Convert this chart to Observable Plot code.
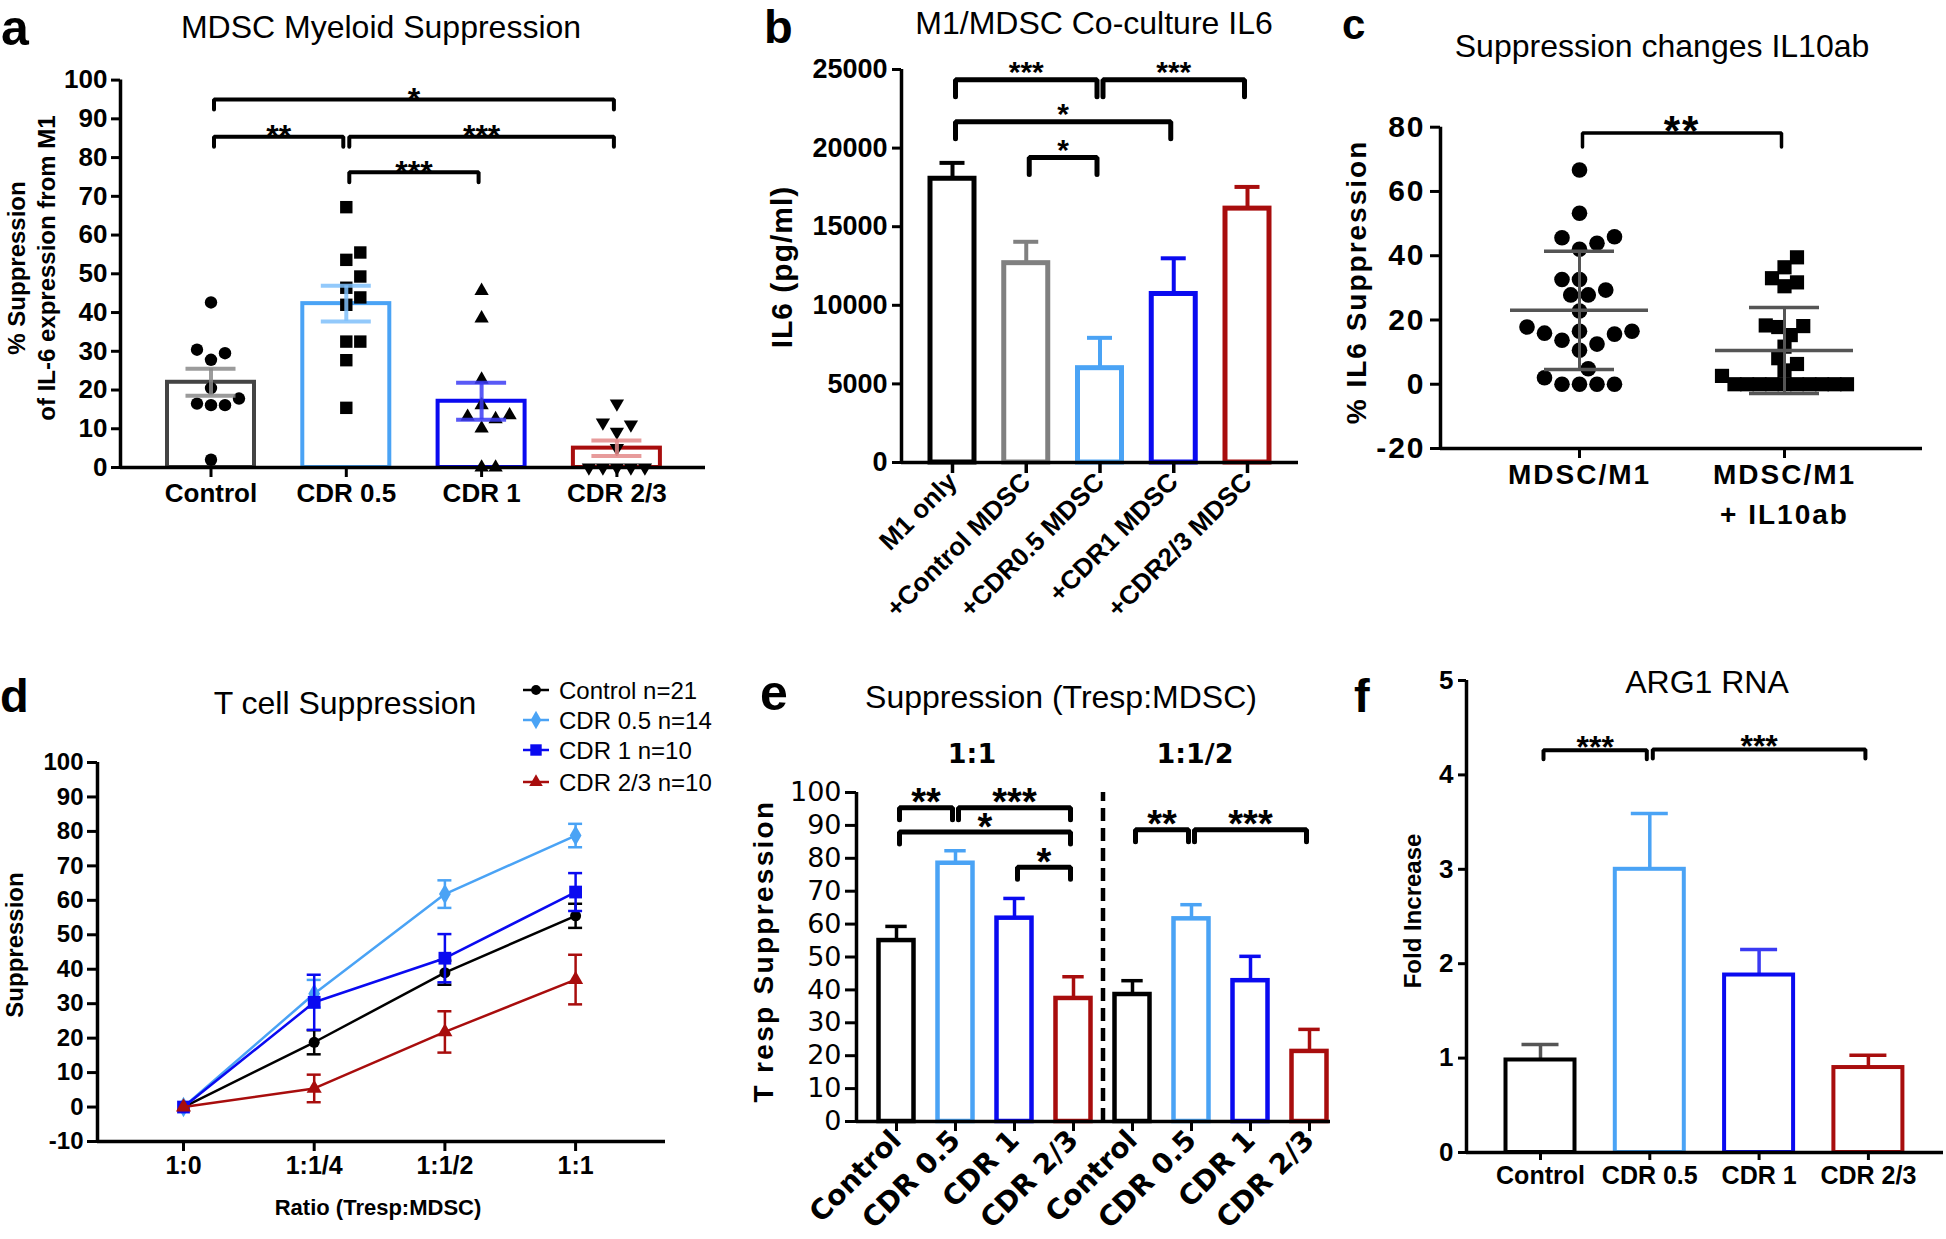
<!DOCTYPE html>
<html><head><meta charset="utf-8">
<script src="https://cdn.jsdelivr.net/npm/d3@7"></script>
<script src="https://cdn.jsdelivr.net/npm/@observablehq/plot@0.6"></script>
<style>
html,body{margin:0;padding:0;background:#fff}
#fig{position:relative;width:1946px;height:1239px;overflow:hidden;background:#fff}
#fig svg{position:absolute;left:0;top:0}
</style></head>
<body><div id="fig"></div>
<script>
// ================= DATA =================
// Panel a – MDSC Myeloid Suppression
const aCats = ["Control", "CDR 0.5", "CDR 1", "CDR 2/3"];
const aMeans = [22.0, 42.3, 17.1, 5.0];
const aSem = [3.5, 4.6, 4.8, 2.0];
const aPtsControl = [42.6, 29.5, 30.4, 27.8, 20.5, 17.8, 16.1, 16.1, 16.5, 2.0];
const aPtsCdr05 = [67.2, 55.5, 53.6, 49.3, 46.4, 43.9, 42.0, 32.5, 32.5, 27.7, 15.4];
const aPtsCdr1 = [45.6, 38.5, 22.7, 16.1, 13.5, 13.1, 12.5, 10.1, 0, 0];
const aPtsCdr23 = [16.5, 11.6, 11.1, 9.2, 5.0, 0, 0, 0, 0, 0];
const aTicks = [0, 10, 20, 30, 40, 50, 60, 70, 80, 90, 100];
const aBrFrom = [0, 0, 1, 1];
const aBrTo = [3, 1, 3, 2];
const aBrY = [95, 85.4, 85.4, 76.2];
const aBrLabel = ["*", "**", "***", "***"];

// Panel b – M1/MDSC Co-culture IL6
const bCats = ["M1 only", "+Control MDSC", "+CDR0.5 MDSC", "+CDR1 MDSC", "+CDR2/3 MDSC"];
const bMeans = [18050, 12680, 6000, 10720, 16150];
const bSem = [1010, 1360, 1930, 2270, 1380];
const bTicks = [0, 5000, 10000, 15000, 20000, 25000];
const bBrFrom = [0, 2, 0, 1];
const bBrTo = [2, 4, 3, 2];
const bBrY = [24350, 24350, 21670, 19400];
const bBrLabel = ["***", "***", "*", "*"];

// Panel c – Suppression changes IL10ab
const cCats = ["MDSC/M1", "MDSC/M1\n+ IL10ab"];
const cPts1 = [66.7, 53.2, 45.6, 45.9, 43.9, 42.0, 32.6, 32.6, 29.3, 27.8, 27.8, 22.8, 17.8, 16.5, 16.5, 15.9, 15.6, 13.7, 12.5, 10.6, 4.8, 2.0, 0, 0, 0, 0];
const cPts2 = [39.5, 36.4, 33.0, 31.7, 30.5, 18.3, 18.1, 17.8, 15.3, 11.7, 8.1, 6.3, 4.3, 2.6, 0, 0, 0, 0, 0, 0, 0, 0, 0, 0];
const cMean = [23.0, 10.5];
const cSd = [18.4, 13.4];
const cTicks = [-20, 0, 20, 40, 60, 80];
const cBrFrom = [0];
const cBrTo = [1];
const cBrY = [78.2];
const cBrLabel = ["**"];

// Panel d – T cell Suppression
const dRatios = ["1:0", "1:1/4", "1:1/2", "1:1"];
const dSeries = ["Control n=21", "CDR 0.5 n=14", "CDR 1 n=10", "CDR 2/3 n=10"];
const dControl = [0, 18.8, 39.0, 55.5];
const dControlErr = [0, 3.5, 3.5, 3.5];
const dCdr05 = [0, 32.9, 61.8, 78.8];
const dCdr05Err = [0, 4.0, 4.0, 3.4];
const dCdr1 = [0, 30.4, 43.2, 62.4];
const dCdr1Err = [0, 8.0, 7.0, 5.5];
const dCdr23 = [0, 5.4, 21.8, 37.0];
const dCdr23Err = [0, 4.0, 6.0, 7.2];
const dTicks = [-10, 0, 10, 20, 30, 40, 50, 60, 70, 80, 90, 100];

// Panel e – Suppression (Tresp:MDSC)
const eCats = ["Control", "CDR 0.5", "CDR 1", "CDR 2/3"];
const eGroups = ["1:1", "1:1/2"];
const eMeans1 = [55.0, 78.5, 61.8, 37.4];
const eSem1 = [4.3, 3.8, 6.0, 6.6];
const eMeans2 = [38.6, 61.6, 42.8, 21.3];
const eSem2 = [4.2, 4.3, 7.4, 6.7];
const eTicks = [0, 10, 20, 30, 40, 50, 60, 70, 80, 90, 100];
const eBrFrom = [0, 1, 0, 2, 4, 5];
const eBrTo = [1, 3, 3, 3, 5, 7];
const eBrY = [95.4, 95.4, 88.0, 77.3, 88.7, 88.7];
const eBrLabel = ["**", "***", "*", "*", "**", "***"];

// Panel f – ARG1 RNA
const fCats = ["Control", "CDR 0.5", "CDR 1", "CDR 2/3"];
const fMeans = [0.98, 3.0, 1.88, 0.9];
const fSem = [0.165, 0.59, 0.27, 0.13];
const fTicks = [0, 1, 2, 3, 4, 5];
const fBrFrom = [0, 1];
const fBrTo = [1, 3];
const fBrY = [4.26, 4.27];
const fBrLabel = ["***", "***"];

// ================= STYLE / LAYOUT =================
const W = 1946, H = 1239;
const FONT = '"Liberation Sans", Arial, Helvetica, sans-serif';
const C_BLACK = "#000000", C_DGRAY = "#444444", C_GRAY = "#808080", C_LBLUE = "#4aa3f5", C_BLUE = "#0a0af0", C_RED = "#a80d0d";
const fig = document.getElementById("fig");

function layout(L, R, T, B, c0, step, ydom) {
  return {L, R, T, B, c0, step, ydom, xdom: [(L - c0) / step, (R - c0) / step], ppu: (B - T) / (ydom[1] - ydom[0])};
}

function panel(lay, marks, style = {}) {
  const svg = Plot.plot({
    width: W, height: H,
    marginLeft: lay.L, marginRight: W - lay.R, marginTop: lay.T, marginBottom: H - lay.B,
    x: {type: "linear", domain: lay.xdom, label: null},
    y: {type: "linear", domain: lay.ydom, label: null},
    color: {type: "identity"},
    style: {background: "none", overflow: "visible", fontFamily: FONT, color: "#000", ...style},
    marks
  });
  svg.style.position = "absolute"; svg.style.left = "0px"; svg.style.top = "0px";
  svg.style.pointerEvents = "none";
  fig.appendChild(svg);
  return svg;
}

function axisLines(lay, sw) {
  return [
    Plot.ruleX([lay.xdom[0]], {y1: lay.ydom[0], y2: lay.ydom[1], stroke: "#000", strokeWidth: sw}),
    Plot.ruleY([lay.ydom[0]], {stroke: "#000", strokeWidth: sw})
  ];
}

function yAxis(ticks, o) {
  return Plot.axisY({ticks, tickFormat: d => String(d), tickSize: o.size, tickPadding: o.pad, fontSize: o.fs,
    fontWeight: o.weight || "bold", fontFamily: o.family || FONT, strokeWidth: o.sw || 3, label: null});
}

function brackets(lay, from, to, ys, labels, o) {
  const inset = 3 / lay.step, leg = o.leg / lay.ppu;
  const br = from.map((f, k) => ({k, x1: f + inset, x2: to[k] - inset, y: ys[k], label: labels[k], mid: (f + to[k]) / 2}));
  const pts = br.flatMap(b => [
    {k: b.k, x: b.x1, y: b.y - leg}, {k: b.k, x: b.x1, y: b.y},
    {k: b.k, x: b.x2, y: b.y}, {k: b.k, x: b.x2, y: b.y - leg}
  ]);
  return [
    Plot.line(pts, {x: "x", y: "y", z: "k", stroke: "#000", strokeWidth: o.sw, strokeLinejoin: "miter", curve: "linear"}),
    Plot.text(br, {x: "mid", y: "y", text: "label", fontSize: o.fs, fontWeight: "bold", lineAnchor: "middle", dy: o.dy, fill: "#000"})
  ];
}

function bars(lay, means, errs, colors, o) {
  const data = means.map((v, i) => ({i, v, e: errs[i], color: colors[i], ec: (o.errColors || colors)[i]}));
  const hw = o.hw / lay.step, cw = o.cap / lay.step;
  const marksBar = [Plot.rectY(data, {x1: d => d.i - hw, x2: d => d.i + hw, y1: 0, y2: "v", fill: "white", stroke: "color", strokeWidth: o.sw})];
  const marksErr = [
    Plot.ruleX(data, {x: "i", y1: d => o.both ? d.v - d.e : d.v, y2: d => d.v + d.e, stroke: "ec", strokeWidth: o.esw, strokeOpacity: o.eop || 1}),
    Plot.ruleY(data, {y: d => d.v + d.e, x1: d => d.i - cw, x2: d => d.i + cw, stroke: "ec", strokeWidth: o.esw, strokeOpacity: o.eop || 1})
  ];
  if (o.both) marksErr.push(Plot.ruleY(data, {y: d => d.v - d.e, x1: d => d.i - cw, x2: d => d.i + cw, stroke: "ec", strokeWidth: o.esw, strokeOpacity: o.eop || 1}));
  return {marksBar, marksErr};
}

// deterministic beeswarm: spreads points of similar value sideways
function swarm(values, center, lay, diam) {
  const order = values.map((v, k) => k).sort((a, b) => values[a] - values[b]);
  const placed = [], out = new Array(values.length), cand = diam / 2;
  for (const k of order) {
    const y = values[k] * lay.ppu;
    let off = 0;
    for (let j = 0; j < 400; j++) {
      off = (j % 2 === 1 ? 1 : -1) * Math.ceil(j / 2) * cand;
      if (placed.every(p => (p.x - off) ** 2 + (p.y - y) ** 2 >= diam * diam * 0.98)) break;
    }
    placed.push({x: off, y});
    out[k] = {x: center + off / lay.step, v: values[k]};
  }
  return out;
}

const triangleDown = {
  draw(context, size) {
    const y = -Math.sqrt(size / (Math.sqrt(3) * 3));
    context.moveTo(0, -y * 2);
    context.lineTo(-Math.sqrt(3) * y, y);
    context.lineTo(Math.sqrt(3) * y, y);
    context.closePath();
  }
};

// ================= PANEL a =================
{
  const lay = layout(120, 705, 79.6, 467, 210.5, 135.3, [0, 100]);
  const {marksBar, marksErr} = bars(lay, aMeans, aSem, [C_DGRAY, C_LBLUE, C_BLUE, C_RED],
    {hw: 43.5, cap: 25, sw: 4, esw: 4, both: true, eop: 0.85, errColors: ["#8a8a8a", "#7fc0fa", "#3c3cf5", "#e38a8a"]});
  const groups = [aPtsControl, aPtsCdr05, aPtsCdr1, aPtsCdr23];
  const syms = ["circle", "square", "triangle", triangleDown];
  const rs = [6.2, 7.0, 5.3, 5.3];
  const dots = groups.map((g, i) => Plot.dot(swarm(g, i, lay, 14), {x: "x", y: "v", symbol: syms[i], r: rs[i], fill: "#000", stroke: "none"}));
  panel(lay, [
    ...marksBar,
    ...dots,
    ...marksErr,
    ...axisLines(lay, 3.5),
    yAxis(aTicks, {size: 9, pad: 4, fs: 26}),
    Plot.axisX({ticks: [0, 1, 2, 3], tickFormat: i => aCats[i], tickSize: 10, tickPadding: 6, fontSize: 26, fontWeight: "bold", strokeWidth: 3, label: null}),
    ...brackets(lay, aBrFrom, aBrTo, aBrY, aBrLabel, {leg: 10, sw: 4, fs: 32, dy: 0})
  ]);
}

// ================= PANEL b =================
{
  const lay = layout(901, 1298, 69, 462, 952, 73.75, [0, 25000]);
  const {marksBar, marksErr} = bars(lay, bMeans, bSem, [C_BLACK, C_GRAY, C_LBLUE, C_BLUE, C_RED], {hw: 22, cap: 12.5, sw: 5, esw: 4});
  panel(lay, [
    ...marksErr, ...marksBar,
    ...axisLines(lay, 3.5),
    yAxis(bTicks, {size: 9, pad: 5, fs: 27}),
    Plot.axisX({ticks: [0, 1, 2, 3, 4], tickFormat: i => bCats[i], tickSize: 11, tickPadding: 4, tickRotate: -45, fontSize: 26, fontWeight: "bold", strokeWidth: 3.5, label: null}),
    ...brackets(lay, bBrFrom, bBrTo, bBrY, bBrLabel, {leg: 17, sw: 5, fs: 30, dy: -7})
  ]);
}

// ================= PANEL c =================
{
  const lay = layout(1440, 1922, 126.7, 448, 1579, 205, [-20, 80]);
  const p1 = swarm(cPts1, 0, lay, 17.5);
  const p2 = swarm(cPts2, 1, lay, 12.5);
  const stats = cMean.map((m, i) => ({i, m, s: cSd[i]}));
  const mw = 69 / lay.step, cw = 35 / lay.step;
  panel(lay, [
    Plot.dot(p1, {x: "x", y: "v", symbol: "circle", r: 7.8, fill: "#000"}),
    Plot.dot(p2, {x: "x", y: "v", symbol: "square", r: 8.0, fill: "#000"}),
    Plot.ruleX(stats, {x: "i", y1: d => d.m - d.s, y2: d => d.m + d.s, stroke: "#555", strokeWidth: 3}),
    Plot.ruleY(stats, {y: "m", x1: d => d.i - mw, x2: d => d.i + mw, stroke: "#555", strokeWidth: 3.5}),
    Plot.ruleY(stats, {y: d => d.m + d.s, x1: d => d.i - cw, x2: d => d.i + cw, stroke: "#555", strokeWidth: 3.5}),
    Plot.ruleY(stats, {y: d => d.m - d.s, x1: d => d.i - cw, x2: d => d.i + cw, stroke: "#555", strokeWidth: 3.5}),
    ...axisLines(lay, 3.5),
    yAxis(cTicks, {size: 10, pad: 5, fs: 30}),
    Plot.axisX({ticks: [0, 1], tickFormat: i => cCats[i], tickSize: 10, tickPadding: -3, fontSize: 28, fontWeight: "bold", lineHeight: 1.43, strokeWidth: 3, label: null}),
    ...brackets(lay, cBrFrom, cBrTo, cBrY, cBrLabel, {leg: 14, sw: 3.5, fs: 42, dy: -1.5})
  ], {letterSpacing: "2px"});
}

// ================= PANEL d =================
const dColors = [C_BLACK, C_LBLUE, C_BLUE, C_RED];
const dSyms = ["circle", "diamond", "square", "triangle"];
const dRad = [5.5, 6.2, 7.2, 5.6];
{
  const lay = layout(97, 665, 762, 1141, 183, 130.7, [-10, 100]);
  const vals = [dControl, dCdr05, dCdr1, dCdr23];
  const errs = [dControlErr, dCdr05Err, dCdr1Err, dCdr23Err];
  const cw = 7 / lay.step;
  const marks = [];
  vals.forEach((arr, k) => {
    const rows = arr.map((v, i) => ({i, v, e: errs[k][i], s: dSeries[k]}));
    const er = rows.filter(d => d.e > 0);
    marks.push(
      Plot.line(rows, {x: "i", y: "v", stroke: dColors[k], strokeWidth: 2.5}),
      Plot.ruleX(er, {x: "i", y1: d => d.v - d.e, y2: d => d.v + d.e, stroke: dColors[k], strokeWidth: 2.5}),
      Plot.ruleY(er, {y: d => d.v + d.e, x1: d => d.i - cw, x2: d => d.i + cw, stroke: dColors[k], strokeWidth: 2.5}),
      Plot.ruleY(er, {y: d => d.v - d.e, x1: d => d.i - cw, x2: d => d.i + cw, stroke: dColors[k], strokeWidth: 2.5}),
      Plot.dot(rows, {x: "i", y: "v", symbol: dSyms[k], r: dRad[k], fill: dColors[k], stroke: "none"})
    );
  });
  panel(lay, [
    ...marks,
    ...axisLines(lay, 3.5),
    yAxis(dTicks, {size: 10, pad: 4, fs: 24}),
    Plot.axisX({ticks: [0, 1, 2, 3], tickFormat: i => dRatios[i], tickSize: 10, tickPadding: 5, fontSize: 25, fontWeight: "bold", strokeWidth: 3, label: null})
  ]);
}

// ================= PANEL e =================
{
  const lay = layout(856, 1330, 792, 1121, 896, 59.0, [0, 100]);
  const means = [...eMeans1, ...eMeans2], sems = [...eSem1, ...eSem2];
  const cols = [C_BLACK, C_LBLUE, C_BLUE, C_RED, C_BLACK, C_LBLUE, C_BLUE, C_RED];
  const {marksBar, marksErr} = bars(lay, means, sems, cols, {hw: 17.5, cap: 10.7, sw: 4.5, esw: 3.5});
  const labels = [...eCats, ...eCats];
  panel(lay, [
    ...marksErr, ...marksBar,
    Plot.ruleX([3.5], {y1: 0, y2: 100, stroke: "#000", strokeWidth: 4.5, strokeDasharray: "13,7"}),
    ...axisLines(lay, 3.5),
    yAxis(eTicks, {size: 11, pad: 4, fs: 27, weight: "normal", family: '"DejaVu Sans", sans-serif'}),
    Plot.axisX({ticks: [0, 1, 2, 3, 4, 5, 6, 7], tickFormat: i => labels[i], tickSize: 10, tickPadding: 4, tickRotate: -45, fontSize: 28, fontWeight: "bold", fontFamily: '"DejaVu Sans", sans-serif', strokeWidth: 3, label: null}),
    ...brackets(lay, eBrFrom, eBrTo, eBrY, eBrLabel, {leg: 12, sw: 5, fs: 38, dy: -4.5})
  ]);
}

// ================= PANEL f =================
{
  const lay = layout(1466, 1943, 680, 1152, 1540, 109.3, [0, 5]);
  const {marksBar, marksErr} = bars(lay, fMeans, fSem, [C_BLACK, C_LBLUE, C_BLUE, C_RED], {hw: 34.5, cap: 18.5, sw: 4, esw: 3.5, errColors: ["#555555", C_LBLUE, "#3a3af2", C_RED]});
  panel(lay, [
    ...marksErr, ...marksBar,
    ...axisLines(lay, 3.5),
    yAxis(fTicks, {size: 8, pad: 5, fs: 26}),
    Plot.axisX({ticks: [0, 1, 2, 3], tickFormat: i => fCats[i], tickSize: 8, tickPadding: 6, fontSize: 25, fontWeight: "bold", strokeWidth: 3, label: null}),
    ...brackets(lay, fBrFrom, fBrTo, fBrY, fBrLabel, {leg: 9, sw: 4, fs: 32, dy: -3})
  ]);
}

// ================= TEXT OVERLAY (letters, titles, axis titles, legend) =================
const ov = d3.create("svg").attr("width", W).attr("height", H).attr("viewBox", `0 0 ${W} ${H}`)
  .style("position", "absolute").style("left", "0px").style("top", "0px").style("font-family", FONT);
function T(x, y, s, o = {}) {
  const t = ov.append("text").text(s)
    .attr("font-size", o.size || 32).attr("font-weight", o.weight || "normal")
    .attr("text-anchor", o.anchor || "start").attr("fill", o.fill || "#000");
  if (o.family) t.attr("font-family", o.family);
  if (o.spacing) t.attr("letter-spacing", o.spacing);
  if (o.rotate) t.attr("transform", `translate(${x},${y}) rotate(${o.rotate})`).attr("dy", "0.35em");
  else t.attr("x", x).attr("y", y);
  return t;
}
// panel letters
T(1, 45, "a", {size: 50, weight: "bold"});
T(764, 43, "b", {size: 47, weight: "bold"});
T(1342, 39, "c", {size: 42, weight: "bold"});
T(0, 712, "d", {size: 47, weight: "bold"});
T(760, 710, "e", {size: 50, weight: "bold"});
T(1354, 712, "f", {size: 47, weight: "bold"});
// titles
T(381, 38, "MDSC Myeloid Suppression", {anchor: "middle"});
T(1094, 34, "M1/MDSC Co-culture IL6", {anchor: "middle"});
T(1662, 57, "Suppression changes IL10ab", {anchor: "middle"});
T(345, 714, "T cell Suppression", {anchor: "middle"});
T(1061, 708, "Suppression (Tresp:MDSC)", {anchor: "middle"});
T(1707, 693, "ARG1 RNA", {anchor: "middle"});
// axis titles
T(17, 268, "% Suppression", {rotate: -90, anchor: "middle", weight: "bold", size: 24});
T(47, 268, "of IL-6 expression from M1", {rotate: -90, anchor: "middle", weight: "bold", size: 24});
T(781, 267, "IL6 (pg/ml)", {rotate: -90, anchor: "middle", weight: "bold", size: 30, spacing: 1});
T(1356, 282, "% IL6 Suppression", {rotate: -90, anchor: "middle", weight: "bold", size: 28, spacing: 2});
T(15, 945, "Suppression", {rotate: -90, anchor: "middle", weight: "bold", size: 24});
T(378, 1215, "Ratio (Tresp:MDSC)", {anchor: "middle", weight: "bold", size: 22});
T(763, 951, "T resp Suppression", {rotate: -90, anchor: "middle", weight: "bold", size: 28, spacing: 2.3});
T(1413, 911, "Fold Increase", {rotate: -90, anchor: "middle", weight: "bold", size: 24});
// panel e group labels
T(972, 763, eGroups[0], {anchor: "middle", weight: "bold", size: 27, family: '"DejaVu Sans", sans-serif'});
T(1195, 763, eGroups[1], {anchor: "middle", weight: "bold", size: 27, family: '"DejaVu Sans", sans-serif'});
// panel d legend
const legY = [690, 720, 750, 782];
const symTypes = [d3.symbolCircle, d3.symbolDiamond, d3.symbolSquare, d3.symbolTriangle];
dSeries.forEach((s, k) => {
  ov.append("line").attr("x1", 523).attr("x2", 549).attr("y1", legY[k]).attr("y2", legY[k]).attr("stroke", dColors[k]).attr("stroke-width", 2.5);
  ov.append("path").attr("d", d3.symbol(symTypes[k], Math.PI * dRad[k] * dRad[k] * 0.8)()).attr("transform", `translate(536,${legY[k]})`).attr("fill", dColors[k]);
  T(559, legY[k] + 8.5, s, {size: 24});
});
fig.appendChild(ov.node());
</script>
</body></html>
